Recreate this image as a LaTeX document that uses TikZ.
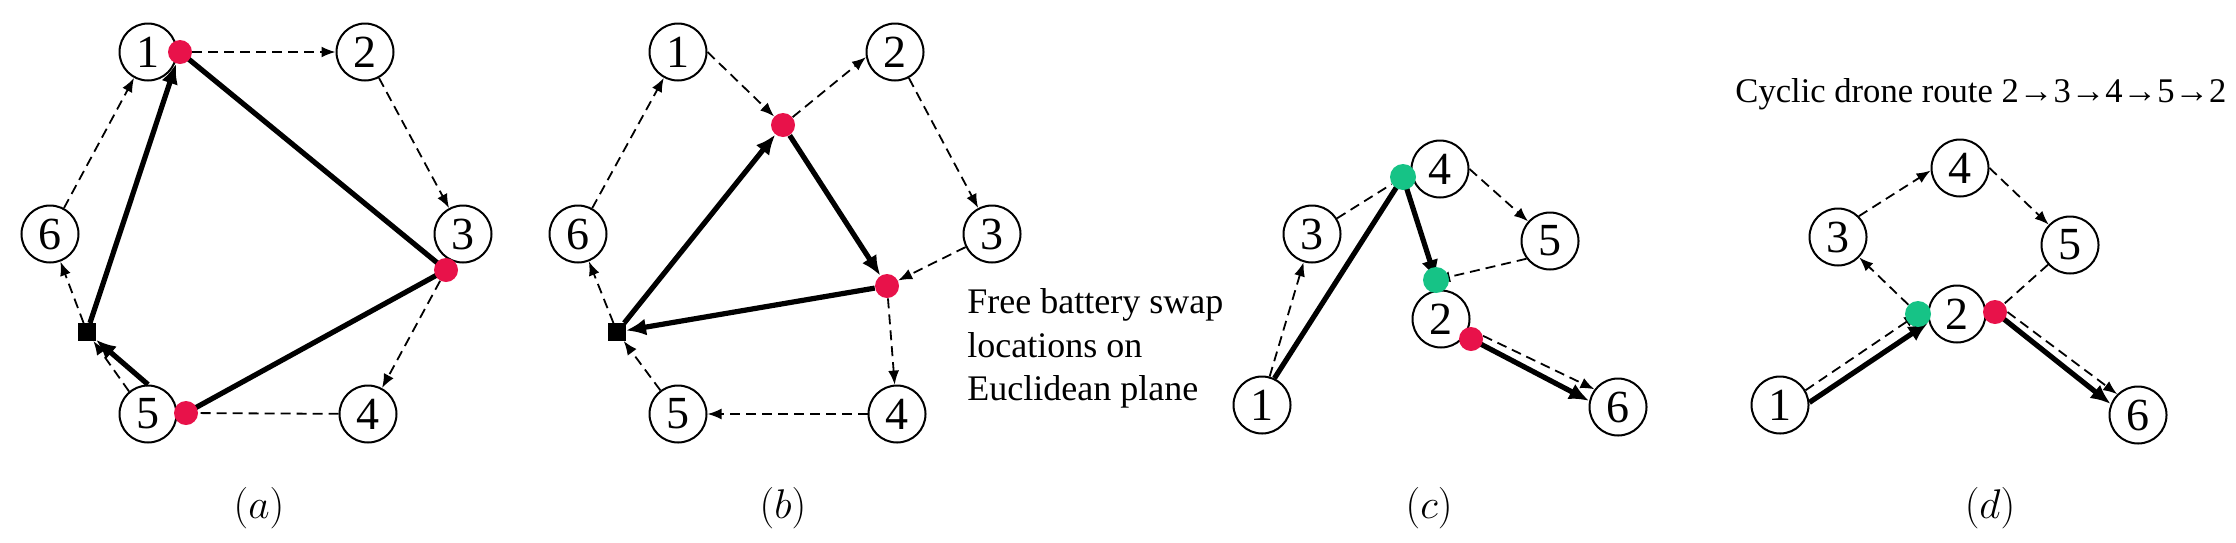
\documentclass[tikz,border=0pt]{standalone}
\usepackage[no-math]{fontspec}
\setmainfont{Liberation Serif}
\usetikzlibrary{arrows.meta}
\definecolor{dotred}{HTML}{E8124A}
\definecolor{dotgreen}{HTML}{16C386}
\pgfdeclarelayer{fg}
\pgfsetlayers{main,fg}
\begin{document}
\begin{tikzpicture}[x=0.5pt,y=-0.5pt,
 vtx/.style={circle,draw,line width=1pt,minimum size=28.5pt,inner sep=0pt,font=\fontsize{23}{23}\selectfont},
 rdot/.style={circle,fill=dotred,minimum size=12pt,inner sep=0pt},
 gdot/.style={circle,fill=dotgreen,minimum size=13pt,inner sep=0pt},
 sqr/.style={rectangle,fill=black,minimum size=8.6pt,inner sep=0pt},
 dsh/.style={line width=0.9pt,dash pattern=on 5pt off 3pt},
 dar/.style={dsh,-{Latex[length=7pt,width=5.5pt]}},
 thk/.style={line width=2.6pt},
 tar/.style={thk,-{Latex[length=10pt,width=8.5pt]}},
 lbl/.style={font=\fontsize{22}{26}\selectfont},
 txt/.style={font=\fontsize{18}{21.5}\selectfont,anchor=base west,inner sep=0pt}]
\useasboundingbox (0,0) rectangle (2236,542);

% ---------- panel (a)
\node[vtx] (a1) at (148,52) {1};
\node[vtx] (a2) at (365,52) {2};
\node[vtx] (a3) at (463,234) {3};
\node[vtx] (a4) at (368,414) {4};
\node[vtx] (a5) at (148,414) {5};
\node[vtx] (a6) at (50,234) {6};
\node[sqr] (asq) at (87,332) {};
\begin{pgfonlayer}{fg}
\node[rdot] (ar1) at (180,52) {};
\node[rdot] (ar3) at (446,270) {};
\node[rdot] (ar5) at (186,413) {};
\end{pgfonlayer}
\draw[dar] (ar1) -- (a2);
\draw[dar] (a2) -- (a3);
\draw[dar] (ar3) -- (a4);
\draw[dsh] (a4) -- (ar5);
\draw[dar] (a5.130) -- (asq);
\draw[tar] (a5.north) -- (asq);
\draw[dar] (asq) -- (a6);
\draw[dar] (a6) -- (a1);
\draw[tar] (asq) -- (ar1);
\draw[thk] (ar1.center) -- (ar3.center);
\draw[thk] (ar3.center) -- (ar5.center);
\node[lbl] (la) at (259,508) {$(a)$};

% ---------- panel (b)
\node[vtx] (b1) at (678,52) {1};
\node[vtx] (b2) at (895,52) {2};
\node[vtx] (b3) at (992,234) {3};
\node[vtx] (b4) at (897,414) {4};
\node[vtx] (b5) at (678,414) {5};
\node[vtx] (b6) at (578,234) {6};
\node[sqr] (bsq) at (617,332) {};
\begin{pgfonlayer}{fg}
\node[rdot] (br1) at (783,125) {};
\node[rdot] (br2) at (887,286) {};
\end{pgfonlayer}
\draw[dar] (b1.east) -- (br1);
\draw[dar] (br1) -- (b2.190);
\draw[dar] (b2) -- (b3);
\draw[dar] (b3) -- (br2);
\draw[dar] (br2) -- (b4);
\draw[dar] (b4) -- (b5);
\draw[dar] (b5) -- (bsq);
\draw[dar] (bsq) -- (b6);
\draw[dar] (b6) -- (b1);
\draw[tar] (bsq) -- (br1);
\draw[tar] (br1) -- (br2);
\draw[tar] (br2) -- (bsq);
\node[txt] (tb1) at (967,313) {Free battery swap};
\node[txt] (tb2) at (967,357) {locations on};
\node[txt] (tb3) at (967,400) {Euclidean plane};
\node[lbl] (lb) at (783,508) {$(b)$};

% ---------- panel (c)
\node[vtx] (c1) at (1262,405) {1};
\node[vtx] (c2) at (1441,319) {2};
\node[vtx] (c3) at (1312,234) {3};
\node[vtx] (c4) at (1440,169) {4};
\node[vtx] (c5) at (1550,241) {5};
\node[vtx] (c6) at (1618,407) {6};
\begin{pgfonlayer}{fg}
\node[gdot] (cg4) at (1403,177) {};
\node[gdot] (cg2) at (1436,280) {};
\node[rdot] (cr2) at (1471,339) {};
\end{pgfonlayer}
\draw[dar] (c1.75) -- (c3);
\draw[thk] (c1.65) -- (cg4.center);
\draw[dsh] (c3) -- (cg4);
\draw[dar] (c4.east) -- (c5);
\draw[dar] (c5.217) -- (cg2.center);
\draw[tar] (cg4.center) -- (cg2.center);
\draw[tar] (cr2.center) -- (c6.168);
\draw[dar] (cr2.15) -- (c6.143);
\node[lbl] (lc) at (1429,508) {$(c)$};

% ---------- panel (d)
\node[txt,font=\fontsize{17.3}{20}\selectfont] (td) at (1735,102) {Cyclic drone route 2→3→4→5→2};
\node[vtx] (d1) at (1780,405) {1};
\node[vtx] (d2) at (1957,314) {2};
\node[vtx] (d3) at (1838,237) {3};
\node[vtx] (d4) at (1960,168) {4};
\node[vtx] (d5) at (2070,245) {5};
\node[vtx] (d6) at (2138,415) {6};
\begin{pgfonlayer}{fg}
\node[gdot] (dg) at (1918,314) {};
\node[rdot] (dr) at (1995,312) {};
\end{pgfonlayer}
\draw[dar] (dg) -- (d3);
\draw[dar] (d3.45) -- (d4.185);
\draw[dar] (d4.east) -- (d5);
\draw[dsh] (d5) -- (dr);
\draw[dar] (d1.30) -- (dg.center);
\draw[tar] (d1.5) -- (dg.-40);
\draw[tar] (dr.center) -- (d6.158);
\draw[dar] (dr.east) -- (d6.135);
\node[lbl] (ld) at (1990,508) {$(d)$};
\end{tikzpicture}
\end{document}
